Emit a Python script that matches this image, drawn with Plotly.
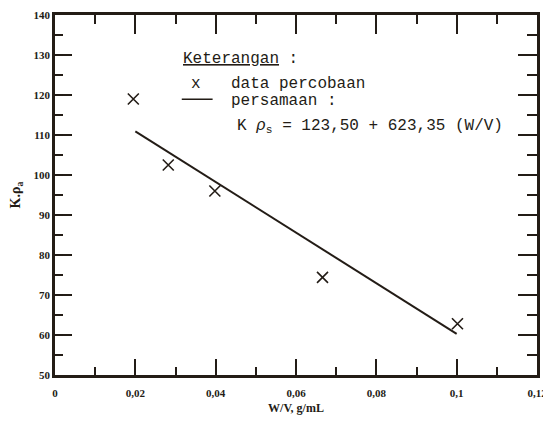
import plotly.graph_objects as go

# data
wv_data = [0.0195, 0.0282, 0.0398, 0.0666, 0.1002]
k_rho_data = [119.0, 102.5, 96.0, 74.4, 62.8]

wv_line = [0.02, 0.10]
k_rho_line = [110.9, 60.3]

x_tickvals = [0, 0.02, 0.04, 0.06, 0.08, 0.10, 0.12]
x_ticktext = ["0", "0,02", "0,04", "0,06", "0,08", "0,1", "0,12"]
y_tickvals = [50, 60, 70, 80, 90, 100, 110, 120, 130, 140]
y_ticktext = ["50", "60", "70", "80", "90", "100", "110", "120", "130", "140"]

ink = "#231c16"
mono = "Liberation Mono"
serif = "Liberation Serif"

fig = go.Figure()
fig.add_trace(go.Scatter(
    x=wv_line, y=k_rho_line, mode="lines", xaxis="x2", yaxis="y2",
    line=dict(color=ink, width=2), showlegend=False, hoverinfo="skip"))
fig.add_trace(go.Scatter(
    x=wv_data, y=k_rho_data, mode="markers",
    marker=dict(symbol="x-thin", size=11, line=dict(color=ink, width=1.6)),
    showlegend=False))

tickfont = dict(family=serif, size=11, color=ink, weight="bold")
common = dict(showline=True, linecolor=ink, linewidth=2.5, ticks="inside", tickcolor=ink,
              tickwidth=2, showgrid=False, zeroline=False, automargin=False, tickfont=tickfont)
xminor = dict(dtick=0.01, ticks="inside", ticklen=8, tickcolor=ink, tickwidth=1.6, showgrid=False)
yminor = dict(dtick=5, ticks="inside", ticklen=8, tickcolor=ink, tickwidth=2, showgrid=False)

fig.update_layout(
    xaxis=dict(range=[0, 0.12], tickvals=x_tickvals, ticktext=x_ticktext, ticklen=16,
               minor=xminor, ticklabelstandoff=6,
               title=dict(text="W/V, g/mL", font=dict(family=serif, size=12, color=ink, weight="bold"),
                          standoff=6),
               **common),
    yaxis=dict(range=[50, 140], tickvals=y_tickvals, ticktext=y_ticktext, ticklen=17,
               minor=yminor,
               title=dict(text="K.ρ<sub>a</sub>", font=dict(family=serif, size=14, color=ink, weight="bold"),
                          standoff=11),
               **common),
    xaxis2=dict(range=[0, 0.12], tickvals=x_tickvals, ticklen=19, overlaying="x", side="top",
                showticklabels=False, minor=dict(xminor, ticklen=9), **common),
    yaxis2=dict(range=[50, 140], tickvals=y_tickvals, ticklen=19, overlaying="y", side="right",
                showticklabels=False, minor=dict(yminor, ticklen=10), **common),
)

txt = dict(family=mono, size=16, color=ink)
fig.add_annotation(xref="paper", yref="paper", x=0.262, y=0.877, xanchor="left", yanchor="middle",
                   text="<u>Keterangan</u> :", showarrow=False, font=txt)
fig.add_annotation(xref="paper", yref="paper", x=0.292, y=0.807, xanchor="center", yanchor="middle",
                   text="x", showarrow=False, font=txt)
fig.add_annotation(xref="paper", yref="paper", x=0.362, y=0.807, xanchor="left", yanchor="middle",
                   text="data percobaan", showarrow=False, font=txt)
fig.add_annotation(xref="paper", yref="paper", x=0.362, y=0.762, xanchor="left", yanchor="middle",
                   text="persamaan :", showarrow=False, font=txt)
fig.add_annotation(xref="paper", yref="paper", x=0.374, y=0.69, xanchor="left", yanchor="middle",
                   text="K <i>ρ</i><sub>s</sub> = 123,50 + 623,35 (W/V)", showarrow=False, font=txt)
fig.add_shape(type="line", xref="paper", yref="paper", x0=0.263, x1=0.327, y0=0.766, y1=0.766,
              line=dict(color=ink, width=1.5))

# the page puts the figure 8 px in from its top-left corner
fig.update_layout(
    width=543, height=415,
    margin=dict(l=47, r=14, t=7, b=48),
    paper_bgcolor="white", plot_bgcolor="white",
)

fig.write_html("out.html")
